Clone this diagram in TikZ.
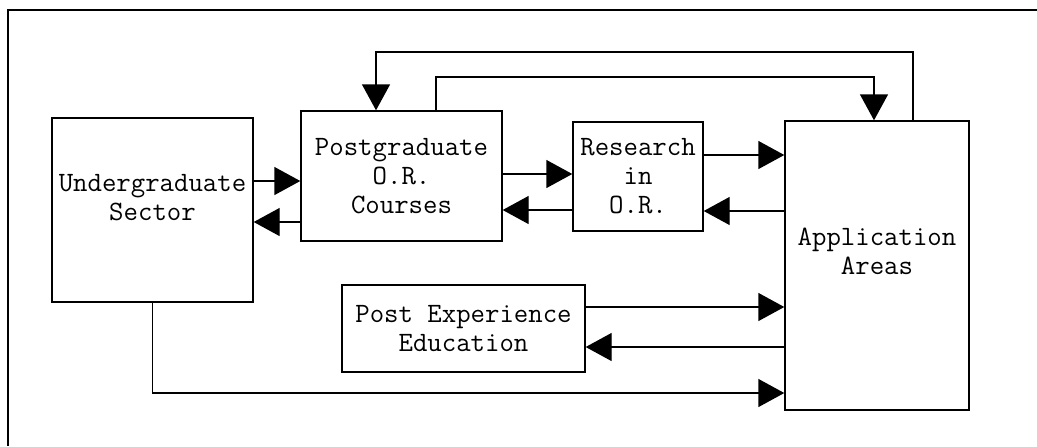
\documentclass[tikz,border=0pt]{standalone}
\usetikzlibrary{arrows.meta}

\tikzset{
  area/.style={draw, line width=0.7pt, inner sep=0pt, align=center},
  flow/.style={line width=0.7pt, -{Triangle[length=13pt, width=14pt]}}
}

\begin{document}
\begin{tikzpicture}[x=0.5pt, y=-0.5pt, font=\ttfamily\fontsize{14}{14.5}\selectfont]
      \useasboundingbox (0, 0) rectangle (1037, 446);
      \draw[line width=0.7pt] (1037, 10) -- (8, 10) -- (8, 446);

      \node[area, minimum width=100.5pt, minimum height=92pt] (ug) at (152.5, 210) {};
      \node[align=center] (ugtext) at (152.5, 198) {Undergraduate\\Sector};
      \node[area, minimum width=100.5pt, minimum height=65pt] (pg) at (401.5, 176)
            {Postgraduate\\O.R.\\Courses};
      \node[area, minimum width=65pt, minimum height=54.5pt] (res) at (638, 176.5)
            {Research\\in\\O.R.};
      \node[area, minimum width=92pt, minimum height=144.5pt] (app) at (877, 265.5) {};
      \node[align=center] (apptext) at (877, 251) {Application\\Areas};
      \node[area, minimum width=121.5pt, minimum height=43.5pt] (pe) at (463.5, 328.5)
            {Post Experience\\Education};

      \draw[flow] (ug.east |- 0, 181) -- (pg.west |- 0, 181);
      \draw[flow] (pg.west |- 0, 222) -- (ug.east |- 0, 222);
      \draw[flow] (pg.east |- 0, 174) -- (res.west |- 0, 174);
      \draw[flow] (res.west |- 0, 210) -- (pg.east |- 0, 210);
      \draw[flow] (res.east |- 0, 155) -- (app.west |- 0, 155);
      \draw[flow] (app.west |- 0, 211) -- (res.east |- 0, 211);
      \draw[flow] (pe.east |- 0, 307) -- (app.west |- 0, 307);
      \draw[flow] (app.west |- 0, 347) -- (pe.east |- 0, 347);
      \draw[flow] (ug.south) |- (app.west |- 0, 393);
      \draw[flow] (app.north -| 913, 0) |- (376, 52) -- (pg.north -| 376, 0);
      \draw[flow] (pg.north -| 436, 0) |- (874, 77) -- (app.north -| 874, 0);
    \end{tikzpicture}
\end{document}
